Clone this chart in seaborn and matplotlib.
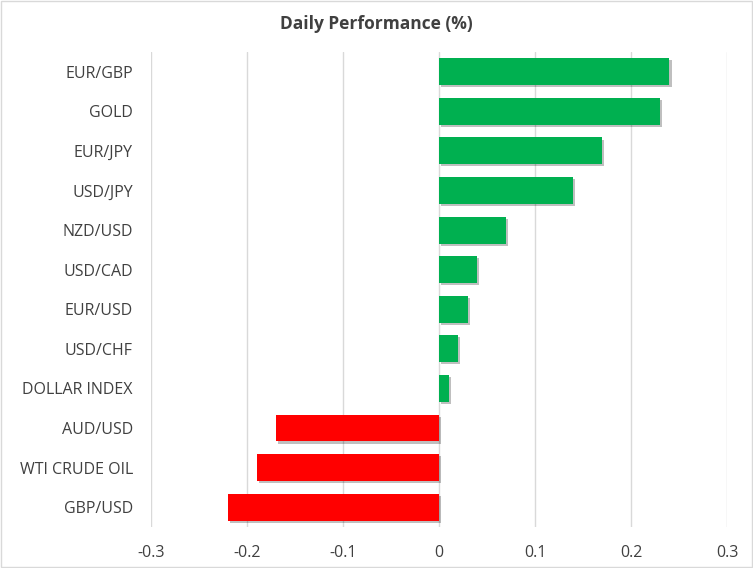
import matplotlib
matplotlib.use("Agg")
import matplotlib.pyplot as plt
import matplotlib.patheffects as pe
import seaborn as sns
import pandas as pd

categories = ["EUR/GBP", "GOLD", "EUR/JPY", "USD/JPY", "NZD/USD", "USD/CAD",
              "EUR/USD", "USD/CHF", "DOLLAR INDEX", "AUD/USD", "WTI CRUDE OIL", "GBP/USD"]
values = [0.24, 0.23, 0.17, 0.14, 0.07, 0.04, 0.03, 0.02, 0.01, -0.17, -0.19, -0.22]
xticks = [-0.3, -0.2, -0.1, 0, 0.1, 0.2, 0.3]
xticklabels = ["-0.3", "-0.2", "-0.1", "0", "0.1", "0.2", "0.3"]

sns.set_theme(style="white")
plt.rcParams['font.family'] = ['Open Sans', 'DejaVu Sans']

df = pd.DataFrame({"cat": categories, "val": values})
colors = ["#00B050" if v >= 0 else "#FF0000" for v in values]

fig = plt.figure(figsize=(7.53, 5.68), dpi=100)
ax = fig.add_axes([0.2005, 0.0722, 0.765, 0.8363])
sns.barplot(data=df, x="val", y="cat", hue="cat", palette=colors, legend=False,
            orient="h", width=0.68, ax=ax, saturation=1)
for p in ax.patches:
    p.set_edgecolor("none")
    p.set_path_effects([pe.SimplePatchShadow(offset=(1.5, -1.5), shadow_rgbFace="#000000", alpha=0.25), pe.Normal()])

ax.set_xlim(-0.3, 0.3)
ax.set_xticks(xticks)
ax.set_xticklabels(xticklabels)
ax.grid(axis="x", color="#D9D9D9", linewidth=1)
ax.set_axisbelow(True)
for s in ax.spines.values():
    s.set_visible(False)
ax.set_xlabel("")
ax.set_ylabel("")
ax.tick_params(axis="both", length=0, labelsize=11.5, labelcolor="#404040")
ax.tick_params(axis="x", pad=13)
ax.tick_params(axis="y", pad=13)

fig.text(0.5, 0.958, "Daily Performance (%)", ha="center", va="center",
         fontsize=12.5, fontweight="bold", color="#404040")
fig.patches.append(plt.Rectangle((0.001, 0.001), 0.998, 0.997, transform=fig.transFigure,
                                 fill=False, edgecolor="#D9D9D9", linewidth=1))
fig.savefig("out.png", dpi=100)
